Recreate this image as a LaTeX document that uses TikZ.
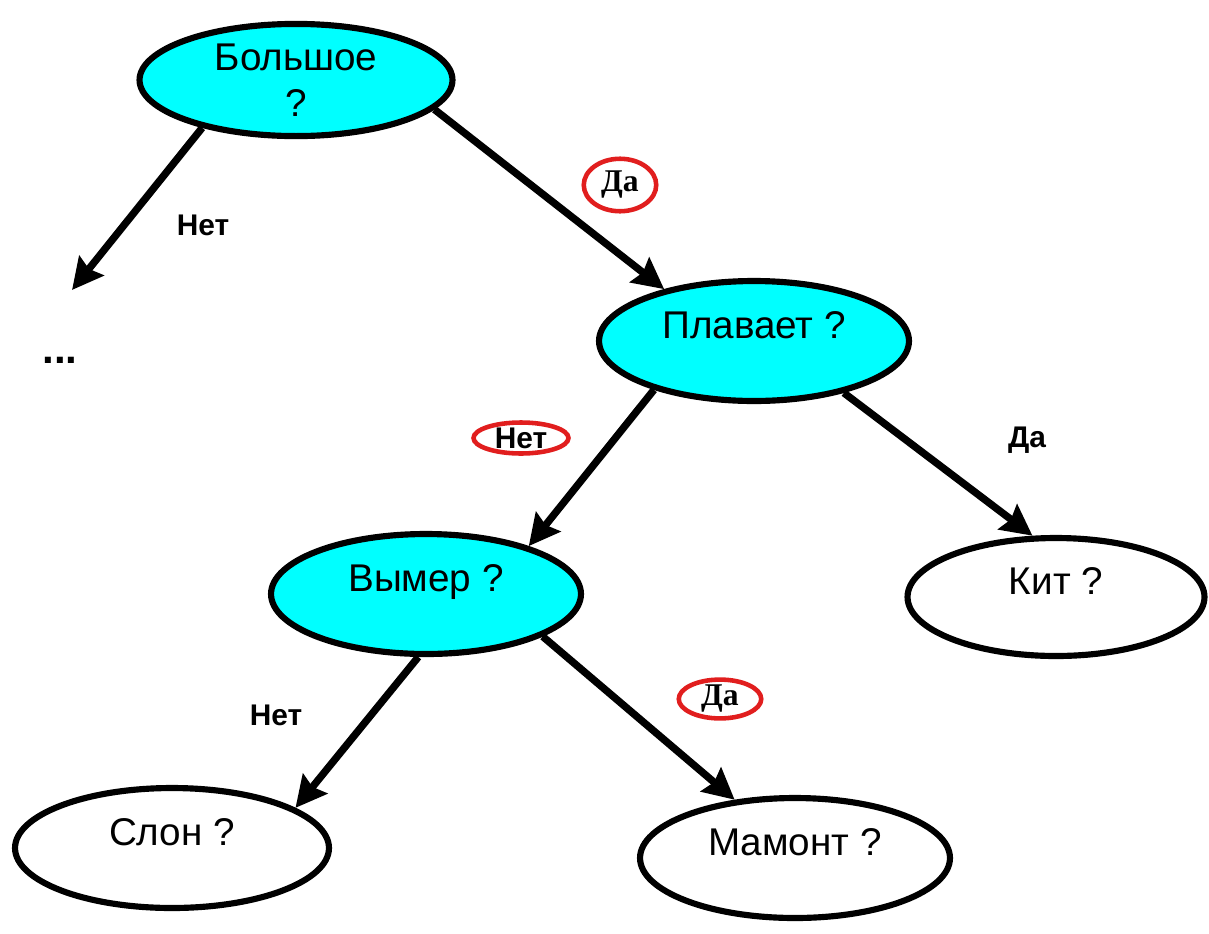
\documentclass[tikz,border=0pt]{standalone}
\usepackage{fontspec}
\setmainfont{Liberation Sans}
\newfontfamily\serifda{Liberation Serif}
\usetikzlibrary{arrows.meta,shapes.geometric,positioning}
\definecolor{krasn}{RGB}{225,30,30}
\definecolor{goluboy}{RGB}{0,255,255}
\tikzset{
	vopros/.style = {ellipse, draw=black, line width=3.5pt, align=center, inner sep=2pt,
		font=\fontsize{22}{26}\selectfont, minimum width=6.2cm, minimum height=2.4cm},% vopros, uzel
	vopros_g/.style = {vopros, fill=goluboy},% vopros, goluboy uzel
	vopros_t/.style = {vopros, text height=0.5cm, text depth=0.62cm},% tekst chut' vyshe
	krug/.style = {ellipse, draw=krasn, line width=2.6pt, inner sep=0pt},% krasnyj oval
	otvet/.style = {font=\fontsize{17}{19}\selectfont\bfseries},% otvet, sans
	otvet_s/.style = {font=\serifda\fontsize{18}{20}\selectfont\bfseries}% otvet, serif
}
\begin{document}
\begin{tikzpicture}[x=0.02cm, y=-0.02cm,
	>={Stealth[length=0.62cm,width=0.62cm,inset=0.08cm]},
	strelka/.style={->, line width=4.2pt}]
\useasboundingbox (0,0) rectangle (1209,933);
\node [vopros_g, minimum width=6.26cm, minimum height=2.14cm] (bolsh) at (296,80) {Большое\\?};
\node [vopros_g, vopros_t] (plav) at (754,341) {Плавает ?};
\node [vopros_g, vopros_t] (vymer) at (426,594) {Вымер ?};
\node [vopros_t, minimum width=5.94cm, minimum height=2.36cm] (kit) at (1056,597) {Кит ?};
\node [vopros_t, minimum width=6.28cm] (slon) at (172,848) {Слон ?};
\node [vopros_t] (mamont) at (795,858) {Мамонт ?};
\coordinate (nizL) at (72,290);
\node [font=\fontsize{24}{26}\selectfont\bfseries] (tochki) at (60,360) {...};

\draw [strelka] (bolsh.207) -- (nizL);
\draw [strelka] (bolsh.-12) -- (plav.150);
\draw [strelka] (plav.206) -- (vymer.25);
\draw [strelka] (plav.-30) -- (kit.111);
\draw [strelka] (vymer.263) -- (slon.18);
\draw [strelka] (vymer.-20) -- (mamont.136);

\node [otvet] (net1) at (203,225) {Нет};
\node [krug, otvet_s, minimum width=1.45cm, minimum height=1.05cm] (da1) at (620,185) {Да};
\node [krug, otvet, minimum width=1.9cm, minimum height=0.62cm] (net2) at (521,438) {Нет};
\node [otvet] (da2) at (1027,440) {Да};
\node [otvet] (net3) at (276,715) {Нет};
\node [krug, otvet_s, minimum width=1.65cm, minimum height=0.64cm] (da3) at (720,699) {Да};
\end{tikzpicture}
\end{document}
